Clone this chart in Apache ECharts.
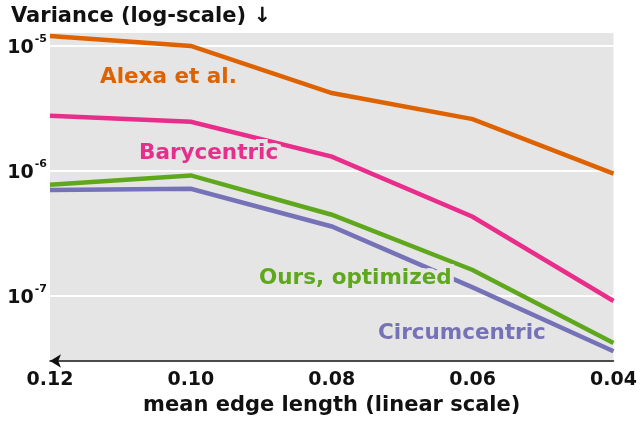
<!DOCTYPE html>
<html>
<head>
<meta charset="utf-8">
<script src="https://cdn.jsdelivr.net/npm/echarts@6/dist/echarts.min.js"></script>
<style>
html,body{margin:0;padding:0;background:#fff;}
#c{width:641px;height:423px;}
</style>
</head>
<body>
<div id="c"></div>
<script>
const edgeLength = [0.12, 0.10, 0.08, 0.06, 0.04];
const alexa = [1.2e-5, 1.0e-5, 4.2e-6, 2.6e-6, 9.5e-7];
const barycentric = [2.77e-6, 2.47e-6, 1.30e-6, 4.3e-7, 9.1e-8];
const oursOptimized = [7.76e-7, 9.2e-7, 4.46e-7, 1.61e-7, 4.2e-8];
const circumcentric = [7.05e-7, 7.2e-7, 3.59e-7, 1.17e-7, 3.6e-8];
const xTicks = [0.12, 0.10, 0.08, 0.06, 0.04];
const seriesNames = ['Alexa et al.', 'Barycentric', 'Ours, optimized', 'Circumcentric'];

const FONT = '"DejaVu Sans"';
const colors = ['#de6200', '#e92d8a', '#5fa81e', '#7672b8'];
const BG = '#e5e5e5';

function pairs(vals) { return edgeLength.map((x, i) => [x, vals[i]]); }

const chart = echarts.init(document.getElementById('c'), null, {renderer: 'canvas'});
const allSeries = [alexa, barycentric, oursOptimized, circumcentric];

chart.setOption({
  animation: false,
  textStyle: {fontFamily: FONT},
  title: {
    text: 'Variance (log-scale) \u2193',
    left: 6, top: 1,
    textStyle: {fontFamily: FONT, fontSize: 21, fontWeight: 'bold', color: '#111'}
  },
  grid: {
    left: 50, right: 27.5, top: 32, bottom: 62,
    show: true, backgroundColor: BG, borderWidth: 0
  },
  xAxis: {
    type: 'value',
    inverse: true,
    min: 0.04, max: 0.12, interval: 0.02,
    name: 'mean edge length (linear scale)',
    nameLocation: 'middle',
    nameGap: 34,
    nameTextStyle: {fontFamily: FONT, fontSize: 21, fontWeight: 'bold', color: '#111'},
    axisLine: {show: true, lineStyle: {color: '#111', width: 1.5},
      symbol: ['arrow', 'none'], symbolSize: [10, 11]},
    axisTick: {show: false},
    splitLine: {show: false},
    axisLabel: {
      fontFamily: FONT, fontSize: 19, fontWeight: 'bold', color: '#111', margin: 10,
      formatter: v => v.toFixed(2)
    }
  },
  yAxis: {
    type: 'log',
    logBase: 10,
    min: 3.01e-8, max: 1.294e-5,
    axisLine: {show: false},
    axisTick: {show: false},
    splitLine: {show: true, lineStyle: {color: '#ffffff', width: 2}},
    axisLabel: {
      margin: 3,
      showMinLabel: false, showMaxLabel: false,
      formatter: v => {
        const e = Math.round(Math.log10(v));
        return '{b|10}{s|' + e + '}';
      },
      rich: {
        b: {fontFamily: FONT, fontSize: 19, fontWeight: 'bold', color: '#111', lineHeight: 24, verticalAlign: 'bottom'},
        s: {fontFamily: FONT, fontSize: 11, fontWeight: 'bold', color: '#111', lineHeight: 24, verticalAlign: 'top', padding: [0, 0, 0, 1]}
      }
    }
  },
  series: allSeries.map((vals, i) => ({
    name: seriesNames[i],
    type: 'line',
    data: pairs(vals),
    showSymbol: false,
    symbol: 'none',
    lineStyle: {color: colors[i], width: 4.5, join: 'miter'},
    z: 2 + (3 - i)
  })),
  graphic: [
    {type: 'text', x: 100, y: 77, z: 100, style: {text: seriesNames[0], fill: colors[0], font: 'bold 21.5px ' + FONT, verticalAlign: 'middle', stroke: BG, lineWidth: 8}},
    {type: 'text', x: 139, y: 153, z: 100, style: {text: seriesNames[1], fill: colors[1], font: 'bold 21.5px ' + FONT, verticalAlign: 'middle', stroke: BG, lineWidth: 8}},
    {type: 'text', x: 259, y: 278, z: 100, style: {text: seriesNames[2], fill: colors[2], font: 'bold 21.5px ' + FONT, verticalAlign: 'middle', stroke: BG, lineWidth: 8}},
    {type: 'text', x: 378, y: 333, z: 100, style: {text: seriesNames[3], fill: colors[3], font: 'bold 21.5px ' + FONT, verticalAlign: 'middle', stroke: BG, lineWidth: 8}}
  ]
});
</script>
</body>
</html>
